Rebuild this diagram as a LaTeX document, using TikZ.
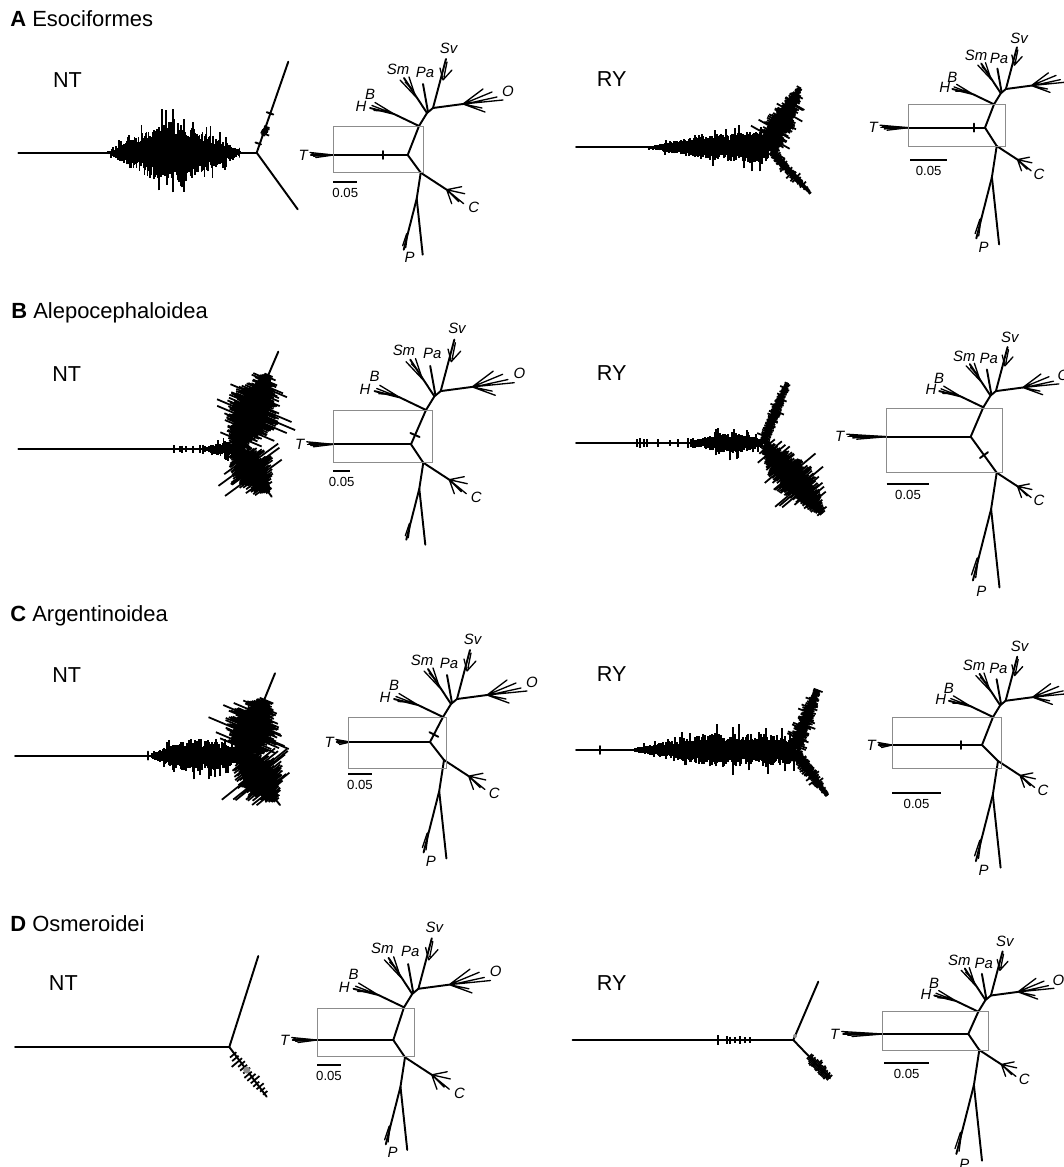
\documentclass[tikz,border=0pt]{standalone}
\usepackage{fontspec}
\setmainfont{Liberation Sans}

\tikzset{
  branch/.style={line width=1.1pt, line cap=round},
  twig/.style={line width=0.75pt, line cap=round},
  spike/.style={line width=1pt},
  frame/.style={draw=black!45, line width=0.55pt},
  bar/.style={line width=1pt},
  lab/.style={font=\fontsize{8.5}{9}\selectfont\itshape, inner sep=0pt},
  scal/.style={font=\fontsize{7.5}{8}\selectfont, inner sep=0pt},
  panel/.style={font=\fontsize{12.5}{14}\selectfont, anchor=base west, inner sep=0pt},
  model/.style={font=\fontsize{12.3}{14}\selectfont, inner sep=0pt},
}

% fuzzy cloud of strokes along a segment: x1,y1,x2,y2,n,wa,wb,wc
\newcommand{\fuzz}[8]{%
  \pgfmathsetmacro\fzdx{#3-(#1)}%
  \pgfmathsetmacro\fzdy{#4-(#2)}%
  \pgfmathsetmacro\fzlen{veclen(\fzdx,\fzdy)}%
  \pgfmathsetmacro\fznx{-1*(\fzdy)/\fzlen}%
  \pgfmathsetmacro\fzny{(\fzdx)/\fzlen}%
  \foreach \k in {0,...,#5}{%
    \pgfmathsetmacro\fzt{\k/#5}%
    \pgfmathsetmacro\fzw{#6*(1-\fzt)+#7*\fzt+#8*(0.5*sin(180*\fzt)+0.5*(1-abs(2*\fzt-1)))}%
    \pgfmathsetmacro\fza{\fzw*(0.4+0.4*rnd)*(1+0.6*(rnd>0.85))}%
    \pgfmathsetmacro\fzb{\fzw*(0.4+0.4*rnd)*(1+0.6*(rnd>0.85))}%
    \pgfmathsetmacro\fzx{#1+(\fzdx)*\fzt}%
    \pgfmathsetmacro\fzy{#2+(\fzdy)*\fzt}%
    \draw[spike] ({\fzx+(\fznx)*\fza},{\fzy+(\fzny)*\fza}) -- ({\fzx-(\fznx)*\fzb},{\fzy-(\fzny)*\fzb});
  }}

% unrooted tree: name, centre, T length, T tip, upper node, upper scale, lower node, C scale, P scale
\newcommand{\fishtree}[9]{%
  \begin{scope}[shift={(#2)}]
    \draw[branch] (0,0) coordinate (#1-c) -- (-#3,0);
    \foreach \dy/\fa in {-2.5/1,-1.2/0.92,0/0.97,1.2/0.85,2.5/0.75}
      \draw[twig] (-#3,0) -- ({-#3-(#4-#3)*\fa},\dy);
    \node[lab, anchor=east] (#1-T) at ({-#4-2},0) {T};
    % upper clade
    \draw[branch] (0,0) -- (#5);
    \begin{scope}[shift={(#5)}, scale=#6]
      \draw[branch] (0,0) -- (-25,-12) -- (-49,-18);
      \draw[twig] (-25,-12) -- (-44,-23.5) (-29,-13.5) -- (-47,-20.5) (-33,-15) -- (-45,-15.5);
      \node[lab] (#1-H) at (-58,-19.5) {H};
      \node[lab] (#1-B) at (-49,-32) {B};
      \draw[branch] (0,0) -- (8,-13) -- (14,-18);
      \draw[branch] (8,-13) -- (-15,-48);
      \draw[twig] (-4,-31) -- (-10,-49) (-3,-29) -- (-19,-46) (-8,-38) -- (-14,-44);
      \node[lab] (#1-Sm) at (-21,-57) {Sm};
      \draw[branch] (9,-14) -- (4,-42);
      \node[lab] (#1-Pa) at (6,-54) {Pa};
      \draw[branch] (14,-18) -- (27,-67);
      \draw[twig] (24,-46) -- (21,-58) (24,-46) -- (33,-56) (25,-49) -- (28,-64);
      \node[lab] (#1-Sv) at (29.5,-78) {Sv};
      \draw[branch] (14,-18) -- (44,-22);
      \draw[twig] (44,-22) -- (84,-26) (44,-22) -- (64,-37) (44,-22) -- (73,-34)
        (46,-22) -- (78,-29) (44,-22) -- (66,-14) (44,-22) -- (63,-18);
      \node[lab] (#1-O) at (89,-35) {O};
    \end{scope}
    % lower clade
    \draw[branch] (0,0) -- (#7);
    \begin{scope}[shift={(#7)}, scale=#8]
      \draw[branch] (0,0) -- (26,17);
      \draw[twig] (26,17) -- (44,21) (26,17) -- (41,14) (26,17) -- (43,31)
        (26,17) -- (31,31) (28,19) -- (38,29);
      \node[lab] (#1-C) at (53,35) {C};
    \end{scope}
    \begin{scope}[shift={(#7)}, scale=#9]
      \draw[branch] (0,0) -- (-4,26) -- (-17,77);
      \draw[branch] (-4,26) -- (2,82);
      \draw[twig] (-13,60) -- (-15,75) (-14,61) -- (-18,73);
      \coordinate (#1-p) at (-11,84.5);
    \end{scope}
  \end{scope}}

\begin{document}
\begin{tikzpicture}[x=0.02cm,y=-0.02cm]
\pgfmathsetseed{12}
\useasboundingbox (0,0) rectangle (1063,1167);

%% A
\node[panel] (titA) at (10,26.7) {\textbf{A} Esociformes};
\node[model] (ntA) at (67.5,80.5) {NT};
\node[model] (ryA) at (611.7,79.5) {RY};

\draw[branch] (18.3,152.7) -- (256.7,152.7);
\draw[branch] (256.7,152.7) -- (288.3,61.7);
\draw[branch] (256.7,152.7) -- (297.7,209.3);
\fuzz{108}{152.7}{240}{152.7}{130}{2}{3}{36}
\draw[branch] (239.5,148.5) -- (239.5,157);
\draw[branch] (266.7,112.2) -- (273.3,114.5);
\fuzz{263.5}{135}{266.5}{127}{6}{4}{4}{2}
\draw[branch] (255.5,142.5) -- (261,144.4);

\draw[branch] (576,147.3) -- (650,147.3);
\fuzz{648}{147.3}{768}{147.3}{120}{1.5}{20}{5}
\draw[branch] (768,150) -- (800,88);
\fuzz{766}{148}{800}{88}{69}{18}{3}{8}
\draw[branch] (772,152) -- (810,193);
\fuzz{772}{152}{810}{193}{56}{6}{2}{2}

\fishtree{a1}{407.7,155}{74.4}{97.7}{11.3,-29}{1}{13,17.7}{1}{1}
\node[lab] (a1-P) at (a1-p) {P};
\draw[frame] (333.3,126) rectangle (423.3,172.7);
\draw[bar] (333.3,182.3) -- (357.3,182.3) node[scal, midway, below=3pt] (a1-s) {0.05};
\draw[branch] (383,151) -- (383,159);

\fishtree{a2}{985,127.7}{76.7}{105}{9,-23.4}{0.85}{11.7,18.3}{0.8}{1.2}
\node[lab] (a2-P) at (a2-p) {P};
\draw[frame] (908.3,104.3) rectangle (1005,146);
\draw[bar] (910,160) -- (947.3,160) node[scal, midway, below=3pt] (a2-s) {0.05};
\draw[branch] (974,123.7) -- (974,131.7);

%% B
\node[panel] (titB) at (11,318.3) {\textbf{B} Alepocephaloidea};
\node[model] (ntB) at (66.7,374) {NT};
\node[model] (ryB) at (611.7,373) {RY};

\draw[branch] (18.3,449) -- (236.7,449);
\foreach \xx/\hh in {174/4,180/3,182/3.5,186/3,193/3.5,200/4,203/4.5,205/3}
  \draw[spike] (\xx,449-\hh) -- (\xx,449+\hh);
\fuzz{207}{449}{236}{449}{30}{4}{10}{2}
\draw[branch] (236.7,449) -- (278.3,351.7);
\fuzz{236.7}{449}{268}{375}{80}{10}{8}{30}
\draw[branch] (236.7,449) -- (271.7,496.7);
\fuzz{236.7}{449}{268}{492}{53}{10}{4}{26}

\draw[branch] (576,443) -- (763,443);
\foreach \xx/\hh in {637.3/4,640/5,644/4,647/4,657.7/4,670/3,678.3/4,688/5,691/4,693/5}
  \draw[spike] (\xx,443-\hh) -- (\xx,443+\hh);
\fuzz{695}{443}{762}{443}{67}{4}{6}{9}
\draw[branch] (763,443) -- (787,383.3);
\fuzz{763}{443}{787}{383.3}{64}{7}{4}{2}
\draw[branch] (765,445) -- (822,513);
\fuzz{765}{445}{822}{513}{89}{8}{5}{22}

\fishtree{b1}{411,444.3}{77.7}{104.3}{15,-34.3}{1.05}{12.3,18.4}{1}{1}
\draw[frame] (333.3,410.7) rectangle (432.3,462.7);
\draw[bar] (333.3,470.7) -- (350,470.7) node[scal, midway, below=3pt] (b1-s) {0.05};
\draw[branch] (410.4,433) -- (419.6,437);

\fishtree{b2}{970.7,436.7}{84}{124}{12.6,-29.4}{0.9}{26,36}{0.8}{1.4}
\node[lab] (b2-P) at (b2-p) {P};
\draw[frame] (886.7,408.3) rectangle (1002.3,472.7);
\draw[bar] (886.7,484.3) -- (929.3,484.3) node[scal, midway, below=3pt] (b2-s) {0.05};
\draw[branch] (980,458) -- (988,452.2);

%% C
\node[panel] (titC) at (10,621.7) {\textbf{C} Argentinoidea};
\node[model] (ntC) at (66.7,675) {NT};
\node[model] (ryC) at (611.7,674) {RY};

\draw[branch] (15,755.7) -- (241.7,755.7);
\draw[branch] (148.3,751.7) -- (148.3,759.7);
\fuzz{152}{755.7}{240}{755.7}{88}{4}{10}{15}
\draw[branch] (241.7,755) -- (275,673.3);
\fuzz{241.7}{755}{265}{700}{60}{14}{8}{30}
\draw[branch] (241.7,757) -- (280,805);
\fuzz{241.7}{757}{276}{800}{55}{12}{5}{28}

\draw[branch] (576,750) -- (636,750);
\draw[branch] (600,746) -- (600,754);
\fuzz{635}{750}{795}{750}{160}{3}{18}{10}
\draw[branch] (795,748) -- (817,690);
\fuzz{795}{748}{817}{690}{62}{10}{5}{3}
\draw[branch] (795,752) -- (827,795);
\fuzz{795}{752}{827}{795}{54}{8}{3}{3}

\fishtree{c1}{430,742}{80}{94}{13,-25}{1}{14,18}{0.95}{1.2}
\node[lab] (c1-P) at (c1-p) {P};
\draw[frame] (348,717) rectangle (446,768);
\draw[bar] (348,774) -- (372,774) node[scal, midway, below=3pt] (c1-s) {0.05};
\draw[branch] (429.5,732.2) -- (438.3,736.8);

\fishtree{c2}{982,745}{90}{104}{11,-28}{0.9}{16,16}{0.85}{1.3}
\node[lab] (c2-P) at (c2-p) {P};
\draw[frame] (892,717) rectangle (1001,768);
\draw[bar] (892,793) -- (941,793) node[scal, midway, below=3pt] (c2-s) {0.05};
\draw[branch] (961,741) -- (961,749);

%% D
\node[panel] (titD) at (10,931.7) {\textbf{D} Osmeroidei};
\node[model] (ntD) at (63.3,983) {NT};
\node[model] (ryD) at (611.7,983) {RY};

\draw[branch] (15,1047) -- (229.3,1047);
\draw[branch] (229.3,1047) -- (258.3,956);
\draw[branch] (229.3,1047) -- (266.7,1096.7);
\fuzz{233}{1055}{265}{1093}{12}{6}{6}{2}
\fill[black!45] (246.7,1070) circle (3.5);

\draw[branch] (572.7,1040) -- (793.3,1040);
\foreach \xx/\hh in {718.3/5,726.7/4,730/3.5,735/3,740/4,745/3,750/3}
  \draw[spike] (\xx,1040-\hh) -- (\xx,1040+\hh);
\draw[branch] (793.3,1040) -- (818.3,981.7);
\draw[branch] (793.3,1040) -- (830,1078.3);
\fuzz{809}{1057}{829}{1078}{18}{6}{6}{2}
\fill[black!45] (795,1036) circle (2);

\fishtree{d1}{393.3,1040}{76.6}{101.6}{10.7,-32.7}{1.03}{11.7,17.3}{1.03}{1.13}
\node[lab] (d1-P) at (d1-p) {P};
\draw[frame] (317.3,1008.3) rectangle (414,1056.7);
\draw[bar] (317.3,1065) -- (340.7,1065) node[scal, midway, below=3pt] (d1-s) {0.05};

\fishtree{d2}{968.3,1034}{85.6}{126.6}{10,-22.3}{0.9}{11,16}{0.85}{1.35}
\node[lab] (d2-P) at (d2-p) {P};
\draw[frame] (882.7,1011.7) rectangle (988.3,1050);
\draw[bar] (884,1063.3) -- (929.3,1063.3) node[scal, midway, below=3pt] (d2-s) {0.05};

\end{tikzpicture}
\end{document}
